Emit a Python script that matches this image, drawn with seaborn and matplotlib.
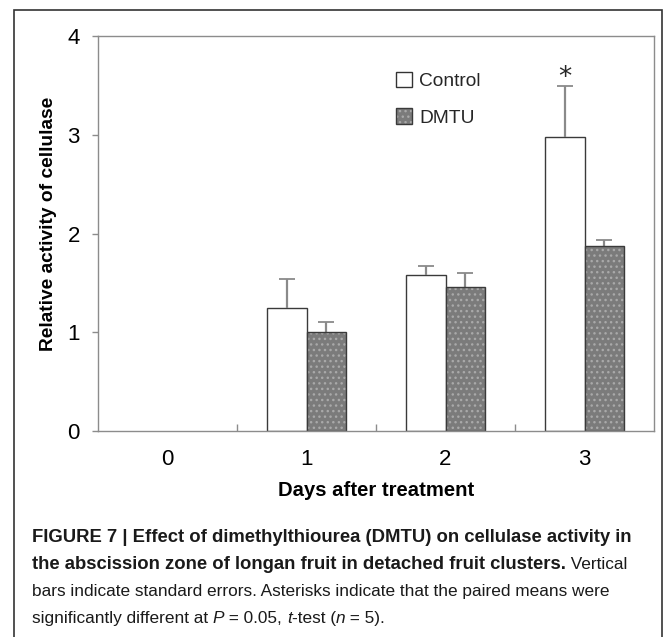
import numpy as np
import pandas as pd
import matplotlib
matplotlib.use("Agg")
import matplotlib.pyplot as plt
import seaborn as sns
from matplotlib.patches import Patch, Rectangle
from matplotlib.legend_handler import HandlerTuple

# ---- data ----
days = ["0", "1", "2", "3"]
groups = ["Control", "DMTU"]
control_mean = [0.0, 1.25, 1.58, 2.98]
control_se = [np.nan, 0.29, 0.09, 0.51]
dmtu_mean = [0.0, 1.00, 1.46, 1.87]
dmtu_se = [np.nan, 0.10, 0.14, 0.06]
significant = [False, False, False, True]
yticks = [0, 1, 2, 3, 4]

sns.set_theme(style="white")
FONT = ["Liberation Sans", "DejaVu Sans"]
plt.rcParams["font.family"] = FONT
plt.rcParams["hatch.linewidth"] = 1.0

df = pd.DataFrame({
    "day": days * 2,
    "value": control_mean + dmtu_mean,
    "group": ["Control"] * len(days) + ["DMTU"] * len(days),
})
se = {"Control": control_se, "DMTU": dmtu_se}

W, H = 670, 637
fig = plt.figure(figsize=(W / 100, H / 100), dpi=100)
fig.patch.set_facecolor("white")
ax = fig.add_axes([98 / W, 1 - 431 / H, 556 / W, 395 / H])
rend = fig.canvas.get_renderer()


def text_width(s, size, weight="normal", style="normal", family=FONT):
    t1 = fig.text(0, 0, "|" + s + "|", fontsize=size, weight=weight, style=style, family=family)
    t2 = fig.text(0, 0, "||", fontsize=size, weight=weight, style=style, family=family)
    w = t1.get_window_extent(renderer=rend).width - t2.get_window_extent(renderer=rend).width
    t1.remove()
    t2.remove()
    return w


def fit_size(s, target_px, weight="normal", style="normal"):
    return 10.0 * target_px / text_width(s, 10.0, weight, style)


DMTU_FILL = "#7b7b7b"
DOT = "#a9a9a9"
sns.barplot(data=df, x="day", y="value", hue="group", order=days,
            hue_order=groups, palette={"Control": "white", "DMTU": DMTU_FILL},
            width=0.57, errorbar=None, edgecolor="#3a3a3a", linewidth=1.0,
            saturation=1, legend=False, ax=ax)

for g, cont in zip(groups, ax.containers):
    xs, ys = [], []
    for p in cont.patches:
        xs.append(p.get_x() + p.get_width() / 2)
        ys.append(p.get_height())
        if p.get_height() == 0:
            p.set_visible(False)
            continue
        if g == "DMTU":
            ax.add_patch(Rectangle(p.get_xy(), p.get_width(), p.get_height(),
                                   fill=False, ec="#3a3a3a", lw=1.0, zorder=p.get_zorder() + 0.1))
            p.set_edgecolor(DOT)
            p.set_hatch("...")
            p.set_linewidth(0)
    err = np.array(se[g], dtype=float)
    eb = ax.errorbar(xs, ys, yerr=[np.zeros_like(err), err], fmt="none",
                     ecolor="#8a8a8a", elinewidth=1.6, capsize=6, capthick=1.3, zorder=1)
    caps = eb[1]
    if len(caps) >= 2:
        caps[0].set_visible(False)
        caps[1].set_color("#222222")
    if g == "Control":
        for x, y, e, s in zip(xs, ys, err, significant):
            if s:
                ax.annotate("*", (x, y + e), xytext=(0, -3.5), textcoords="offset points",
                            ha="center", va="bottom", fontsize=19, family="DejaVu Sans")

ax.set_ylim(0, 4)
ax.set_yticks(yticks)
ax.set_yticklabels([str(t) for t in yticks])
ax.set_xlim(-0.5, len(days) - 0.5)
ax.set_xticks(range(len(days)))
ax.set_xticklabels(days)
ax.set_xticks([i + 0.5 for i in range(len(days) - 1)], minor=True)
ax.tick_params(axis="x", which="major", length=0, pad=13, labelsize=16, labelcolor="black")
ax.tick_params(axis="x", which="minor", direction="in", length=5, width=1, color="#8c8c8c", bottom=True)
ax.tick_params(axis="y", which="major", direction="out", length=4, width=1, color="#8c8c8c",
               pad=9, labelsize=16, labelcolor="black", left=True)
for sp in ax.spines.values():
    sp.set_color("#8c8c8c")
    sp.set_linewidth(1.0)

xlab = "Days after treatment"
ax.set_xlabel(xlab, fontsize=fit_size(xlab, 196, "bold"), fontweight="bold", color="black")
ax.xaxis.set_label_coords(0.5, (431 - 481) / 395)
ylab = "Relative activity of cellulase"
ax.set_ylabel(ylab, fontsize=fit_size(ylab, 254, "bold"), fontweight="bold", color="black")
ax.yaxis.set_label_coords((57 - 98) / 556, (431 - 224) / 395)

h_ctrl = Patch(facecolor="white", edgecolor="#333333", lw=1.0)
h_dmtu = (Patch(facecolor=DMTU_FILL, edgecolor=DOT, hatch="...", lw=0),
          Patch(fill=False, edgecolor="#3a3a3a", lw=1.0))
ax.legend([h_ctrl, h_dmtu], groups, handler_map={tuple: HandlerTuple(ndivide=1, pad=0)},
          loc="upper left", bbox_to_anchor=((396 - 98) / 556, (431 - 72) / 395),
          frameon=False, fontsize=fit_size("Control", 62), borderpad=0, borderaxespad=0,
          handlelength=0.85, handleheight=0.85, handletextpad=0.35, labelspacing=0.95)

# outer frame
fig.add_artist(Rectangle((14 / W, -0.05), (662 - 14) / W, 1.05 - 10 / H,
                         transform=fig.transFigure, fill=False, ec="#333333", lw=1.2))

# caption
caption_lines = [
    [("FIGURE 7 | Effect of dimethylthiourea (DMTU) on cellulase activity in", "bold", "normal")],
    [("the abscission zone of longan fruit in detached fruit clusters.", "bold", "normal"),
     (" Vertical", "normal", "normal")],
    [("bars indicate standard errors. Asterisks indicate that the paired means were", "normal", "normal")],
    [("significantly different at ", "normal", "normal"), ("P", "normal", "italic"),
     (" = 0.05, ", "normal", "normal"), ("t", "normal", "italic"), ("-test (", "normal", "normal"),
     ("n", "normal", "italic"), (" = 5).", "normal", "normal")],
]
BOLD_FS = fit_size(caption_lines[0][0][0], 601, "bold")
REG_FS = fit_size(caption_lines[2][0][0], 577, "normal")
baselines = [542, 569, 596, 623]
for runs, yb in zip(caption_lines, baselines):
    x = 32.0
    for s, w, st in runs:
        fs = BOLD_FS if w == "bold" else REG_FS
        fig.text(x / W, 1 - yb / H, s, fontsize=fs, weight=w, style=st,
                 va="baseline", ha="left", color="#1a1a1a")
        x += text_width(s, fs, w, st)

fig.savefig("out.png", dpi=100, facecolor="white")
